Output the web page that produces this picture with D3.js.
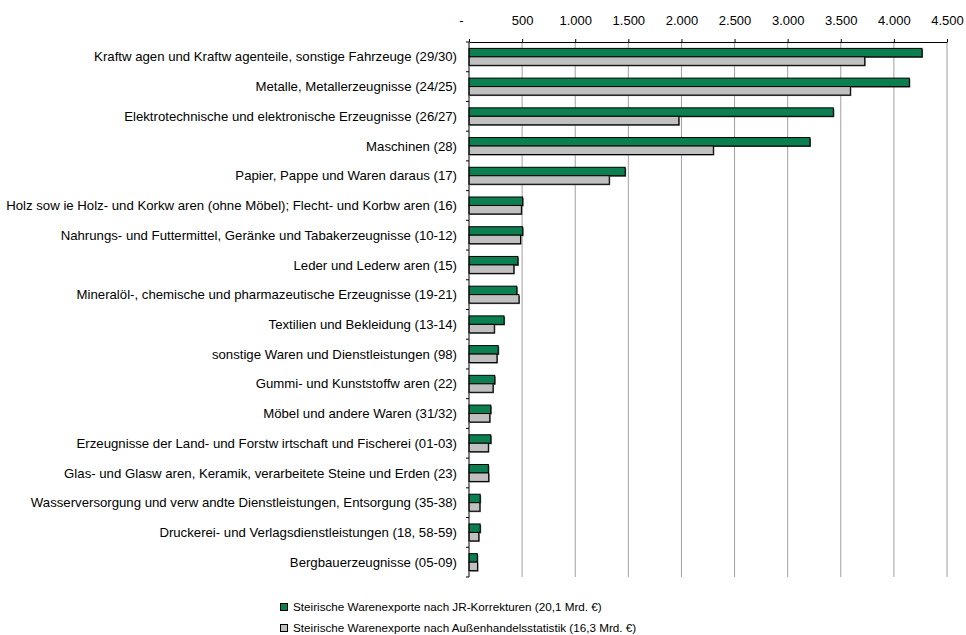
<!DOCTYPE html>
<html>
<head>
<meta charset="utf-8">
<script src="https://cdn.jsdelivr.net/npm/d3@7"></script>
<style>
  body { margin: 0; background: #fff; }
  svg { font-family: "Liberation Sans", Arial, sans-serif; }
</style>
</head>
<body>
<svg id="chart" width="966" height="635"></svg>
<script>
const categories = [
  "Kraftw agen und Kraftw agenteile, sonstige Fahrzeuge (29/30)",
  "Metalle, Metallerzeugnisse (24/25)",
  "Elektrotechnische und elektronische Erzeugnisse (26/27)",
  "Maschinen (28)",
  "Papier, Pappe und Waren daraus (17)",
  "Holz sow ie Holz- und Korkw aren (ohne Möbel); Flecht- und Korbw aren (16)",
  "Nahrungs- und Futtermittel, Geränke und Tabakerzeugnisse (10-12)",
  "Leder und Lederw aren (15)",
  "Mineralöl-, chemische und pharmazeutische Erzeugnisse (19-21)",
  "Textilien und Bekleidung (13-14)",
  "sonstige Waren und Dienstleistungen (98)",
  "Gummi- und Kunststoffw aren  (22)",
  "Möbel und andere Waren (31/32)",
  "Erzeugnisse der Land- und Forstw irtschaft und Fischerei (01-03)",
  "Glas- und Glasw aren, Keramik, verarbeitete Steine und Erden (23)",
  "Wasserversorgung und verw andte Dienstleistungen, Entsorgung (35-38)",
  "Druckerei- und Verlagsdienstleistungen (18, 58-59)",
  "Bergbauerzeugnisse (05-09)"
];
const jrValues = [4265, 4145, 3430, 3210, 1470, 505, 505, 460, 450, 330, 275, 242, 205, 205, 182, 105, 105, 78];
const ahsValues = [3725, 3590, 1975, 2300, 1320, 493, 485, 422, 470, 238, 263, 226, 195, 182, 185, 102, 92, 80];
const seriesNames = [
  "Steirische Warenexporte nach JR-Korrekturen (20,1 Mrd. €)",
  "Steirische Warenexporte nach Außenhandelsstatistik (16,3 Mrd. €)"
];
const tickValues = [0, 500, 1000, 1500, 2000, 2500, 3000, 3500, 4000, 4500];
const tickLabels = ["-", "500", "1.000", "1.500", "2.000", "2.500", "3.000", "3.500", "4.000", "4.500"];
const colors = ["#0b7f50", "#c0c0c0"];

const svg = d3.select("#chart");
const pLeft = 469, pRight = 947, pTop = 42, pBottom = 577;

const x = d3.scaleLinear().domain([0, 4500]).range([pLeft, pRight]);
const y = d3.scaleBand().domain(categories).range([pTop, pBottom]).paddingInner(0.43).paddingOuter(0.215);
const sub = d3.scaleBand().domain([0, 1]).range([0, y.bandwidth()]);
const band = (pBottom - pTop) / categories.length;

// gridlines
svg.append("g").selectAll("line").data(tickValues.slice(1)).join("line")
  .attr("x1", d => x(d)).attr("x2", d => x(d))
  .attr("y1", pTop).attr("y2", pBottom)
  .attr("stroke", "#a0a0a0").attr("stroke-width", 1);

// bars
const groups = svg.append("g").selectAll("g").data(categories).join("g")
  .attr("transform", d => `translate(0,${y(d)})`);
[jrValues, ahsValues].forEach((vals, si) => {
  groups.append("rect")
    .attr("x", pLeft + 1)
    .attr("y", (d, i) => sub(si) + 1)
    .attr("width", (d, i) => x(vals[i]) - pLeft)
    .attr("height", sub.bandwidth())
    .attr("fill", "#555");
  groups.append("rect")
    .attr("x", pLeft)
    .attr("y", (d, i) => sub(si))
    .attr("width", (d, i) => x(vals[i]) - pLeft)
    .attr("height", sub.bandwidth())
    .attr("fill", colors[si])
    .attr("stroke", "#000").attr("stroke-width", 1);
});

// top axis
const xAxis = d3.axisTop(x).tickValues(tickValues).tickSize(3).tickSizeOuter(0)
  .tickFormat((d, i) => tickLabels[i]);
const gx = svg.append("g").attr("transform", `translate(0,${pTop})`).call(xAxis);
gx.select(".domain").attr("stroke", "#000");
gx.selectAll(".tick line").attr("stroke", "#000");
gx.selectAll(".tick text").attr("font-size", 13).attr("fill", "#000")
  .attr("y", -17)
  .attr("dx", d => d === 0 ? -8 : 0);

// left axis
svg.append("line").attr("x1", pLeft).attr("x2", pLeft).attr("y1", pTop).attr("y2", pBottom).attr("stroke", "#000");
svg.append("g").selectAll("line").data(d3.range(categories.length + 1)).join("line")
  .attr("x1", pLeft - 3).attr("x2", pLeft)
  .attr("y1", i => pTop + i * band).attr("y2", i => pTop + i * band)
  .attr("stroke", "#000");
svg.append("g").selectAll("text").data(categories).join("text")
  .attr("x", 457)
  .attr("y", d => y(d) + y.bandwidth() / 2)
  .attr("dy", "0.35em")
  .attr("text-anchor", "end")
  .attr("font-size", 13.2)
  .attr("fill", "#000")
  .text(d => d);

// legend
const leg = svg.append("g").attr("transform", "translate(280,607)");
seriesNames.forEach((n, i) => {
  const g = leg.append("g").attr("transform", `translate(0,${i * 21})`);
  g.append("rect").attr("x", 0.5).attr("y", -3.5).attr("width", 7).attr("height", 7)
    .attr("fill", colors[i]).attr("stroke", "#000");
  g.append("text").attr("x", 13).attr("y", 0).attr("dy", "0.35em")
    .attr("font-size", 11.7).attr("fill", "#000").text(n);
});
</script>
</body>
</html>
